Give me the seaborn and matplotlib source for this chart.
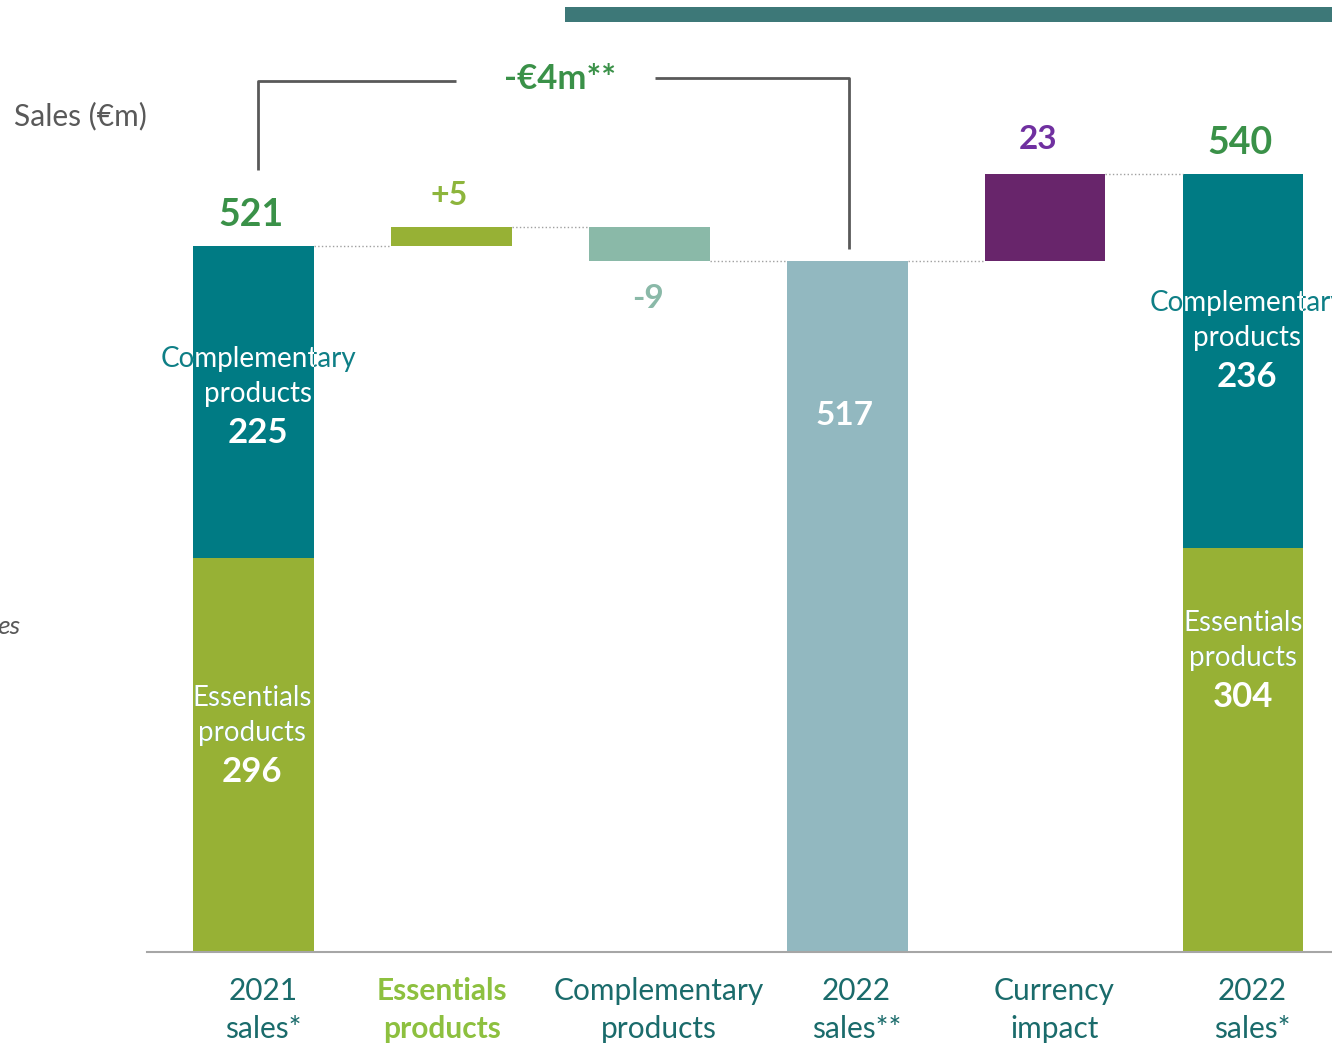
import numpy as np
import pandas as pd
import matplotlib
matplotlib.use("Agg")
import matplotlib.pyplot as plt
import matplotlib.transforms as mtransforms
import seaborn as sns
from matplotlib.patches import Rectangle

# data
steps = ["2021\nsales*", "Essentials\nproducts", "Complementary\nproducts",
         "2022\nsales**", "Currency\nimpact", "2022\nsales*"]
sales_2021 = [296, 225]          # essentials, complementary
ess_change = 5
comp_change = -9
sales_2022_cst = 517
currency = 23
sales_2022 = [304, 236]          # essentials, complementary
bridge_label = "-€4m**"

# waterfall layers
total_2021 = sum(sales_2021)
after_ess = total_2021 + ess_change
low_bottom = [sales_2021[0], 0, 0, sales_2022_cst, 0, sales_2022[0]]
top_bottom = [sales_2021[0], total_2021, after_ess + comp_change, 0, sales_2022_cst, sales_2022[0]]
top_height = [sales_2021[1], ess_change, -comp_change, 0, currency, sales_2022[1]]
ends = [total_2021, after_ess, after_ess + comp_change, sales_2022_cst,
        sales_2022_cst + currency, sum(sales_2022)]

TEAL = "#007B84"
GREEN = "#97B135"
low_colors = [GREEN, "none", "none", "#92B8C0", "none", GREEN]
top_colors = [TEAL, GREEN, "#8AB9A8", "none", "#68256B", TEAL]

sns.set_theme(style="white")
plt.rcParams["font.family"] = ["Lato", "DejaVu Sans"]

# steeper scale at the top so the small steps are visible
T, K = 515.5, 2.85


def fwd(y):
    y = np.asarray(y, dtype=float)
    return np.where(y <= T, y, T + K * (y - T))


def inv(y):
    y = np.asarray(y, dtype=float)
    return np.where(y <= T, y, T + (y - T) / K)


fig = plt.figure(figsize=(13.32, 10.44), dpi=100)
ax = fig.add_axes([147 / 1332, 92 / 1044, 1185 / 1332, 952 / 1044])

df = pd.DataFrame({"step": steps, "low": low_bottom, "top": top_height, "base": top_bottom})
w = 0.61
sns.barplot(data=df, x="step", y="low", order=steps, width=w, errorbar=None,
            color="gray", linewidth=0, ax=ax)
n_low = len(ax.patches)
sns.barplot(data=df, x="step", y="top", order=steps, width=w, errorbar=None,
            color="gray", bottom=df["base"].values, linewidth=0, ax=ax)
for p, c in zip(ax.patches[:n_low], low_colors):
    p.set_facecolor(c)
for p, c in zip(ax.patches[n_low:], top_colors):
    p.set_facecolor(c)
low_bars = ax.patches[:n_low]
top_bars = ax.patches[n_low:]

ax.set_yscale("function", functions=(fwd, inv))
ax.set_ylim(0, 585.8)
ax.set_xlim(-0.54, 5.45)

# dotted connectors
for i in range(5):
    ax.hlines(ends[i], i + w / 2, i + 1 - w / 2, color="#A0A0A0", lw=1, ls=":")

# value labels
ax.annotate(str(total_2021), (0, total_2021), xytext=(-2, 10), textcoords="offset points",
            ha="center", va="bottom", fontsize=27, fontweight="bold", color="#3A9148")
ax.annotate(f"+{ess_change}", (1, after_ess), xytext=(-2, 12), textcoords="offset points",
            ha="center", va="bottom", fontsize=23, fontweight="bold", color="#8DB53C")
ax.annotate(f"{comp_change}", (2, after_ess + comp_change), xytext=(-1, -17), textcoords="offset points",
            ha="center", va="top", fontsize=24, fontweight="bold", color="#8AB9A8")
ax.annotate(str(currency), (4, sales_2022_cst + currency), xytext=(-5, 14), textcoords="offset points",
            ha="center", va="bottom", fontsize=24, fontweight="bold", color="#7030A0")
ax.annotate(str(sum(sales_2022)), (5, sum(sales_2022)), xytext=(-2, 10), textcoords="offset points",
            ha="center", va="bottom", fontsize=27, fontweight="bold", color="#3A9148")
ax.annotate(str(sales_2022_cst), (3, sales_2022_cst), xytext=(-2, -101), textcoords="offset points",
            ha="center", va="top", fontsize=24, fontweight="bold", color="white")


def seg_label(x, bottom, height, frac, name, value, bar):
    y = bottom + frac * height
    for col, clip in (("#0E7F86", False), ("white", True)):
        for txt, dy in ((name, 25), ("products", 0)):
            t = ax.annotate(txt, (x, y), xytext=(3, dy), textcoords="offset points",
                            ha="center", va="center", fontsize=20, color=col)
            if clip:
                t.set_clip_path(bar)
    ax.annotate(str(value), (x, y), xytext=(3, -28), textcoords="offset points",
                ha="center", va="center", fontsize=25, fontweight="bold", color="white")


seg_label(0, sales_2021[0], sales_2021[1], 0.55, "Complementary", sales_2021[1], top_bars[0])
seg_label(-0.03, 0, sales_2021[0], 0.556, "Essentials", sales_2021[0], low_bars[0])
seg_label(5, sales_2022[0], sales_2022[1], 0.668, "Complementary", sales_2022[1], top_bars[5])
seg_label(4.98, 0, sales_2022[0], 0.727, "Essentials", sales_2022[0], low_bars[5])

# bracket between the two sales totals
br_y = 564.7
lc = "#595959"
ax.plot([0.02, 0.02, 1.02], [total_2021 + 20, br_y - 0.4, br_y - 0.4], color=lc, lw=2,
        solid_capstyle="butt")
ax.plot([2.03, 3.01, 3.01], [br_y + 0.6, br_y + 0.6, sales_2022_cst + 3], color=lc, lw=2,
        solid_capstyle="butt")
ax.text(1.55, br_y + 0.2, bridge_label, ha="center", va="center", fontsize=25, fontweight="bold",
        color="#3A9148")

# axes styling
for s in ["left", "right", "top"]:
    ax.spines[s].set_visible(False)
ax.spines["bottom"].set_color("#A6A6A6")
ax.spines["bottom"].set_linewidth(1.5)
ax.set_yticks([])
ax.set_xlabel("")
ax.set_ylabel("")
ax.tick_params(axis="x", length=0, pad=18, labelsize=21.5, labelcolor="#1A6B6B")
for lab in ax.get_xticklabels():
    lab.set_linespacing(1.42)
    shift = 9
    if lab.get_text().startswith("Essentials"):
        lab.set_color("#8DC03F")
        lab.set_fontweight("bold")
        shift = -10
    lab.set_transform(lab.get_transform() +
                      mtransforms.ScaledTranslation(shift / 100, 0, fig.dpi_scale_trans))

fig.text(14 / 1332, 1 - 116 / 1044, "Sales (€m)", fontsize=21.5, color="#595959", va="center")
fig.text(-0.002, 1 - 627 / 1044, "es", fontsize=19, color="#595959", style="italic", va="center")
fig.add_artist(Rectangle((565 / 1332, 1 - 22 / 1044), 767 / 1332, 15 / 1044,
                         transform=fig.transFigure, color="#3D7878", lw=0))

fig.savefig("out.png", dpi=100)
